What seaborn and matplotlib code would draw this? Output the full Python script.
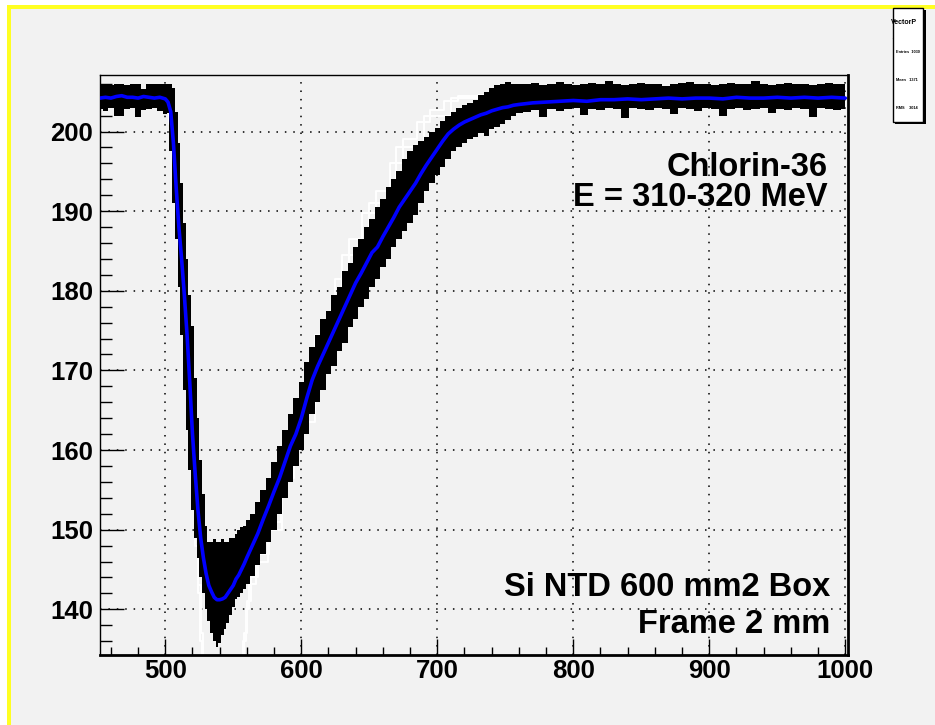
import numpy as np
import pandas as pd
import seaborn as sns
import matplotlib.pyplot as plt
from matplotlib.patches import Rectangle
from matplotlib.ticker import MultipleLocator

# ---- data ----
# black band = envelope of the single pulses (upper / lower edge per bin)
band_x = (list(range(452, 501, 4)) + list(range(502, 561, 2))
          + list(range(564, 761, 4)) + list(range(766, 1001, 6)))
band_hi = [206, 206, 205.8, 206, 206, 205.9, 206, 206, 205.3, 206, 206, 206, 206,
           206, 206, 205.5, 202.5, 198.5, 193.5, 188.5, 184, 179.5, 175.6,
           169, 164, 158.8, 154.5, 150.5, 148.5, 148.5, 148.8, 148.5, 148.5,
           148.8, 148.5, 148.5, 149, 149, 149.5, 150, 150.3, 150.5, 151.2,
           152, 153.5, 155, 156.5, 158.5, 160.5, 162.5, 164.5, 166.5, 168.5,
           171, 173, 174.5, 176.5, 177.5, 179.5, 180.5, 182.5, 183.5, 185.5,
           186.5, 188, 189, 190.5, 191.5, 193, 194, 195, 196.5, 197.5,
           198.3, 198.8, 199.3, 199.9, 200.5, 201.3, 202, 202.5, 203, 203.3,
           203.6, 204, 204.6, 205, 205.5, 205.8, 206, 206.2, 206, 206,
           206, 206.1, 205.9, 206, 206.2, 206, 205.8, 206, 206.1, 206,
           206.3, 206, 205.9, 206, 206.1, 206, 206, 205.7, 206, 206.1,
           206.2, 206, 206, 205.9, 206, 206.1, 206, 206, 206.3, 206,
           205.8, 206, 206.1, 206, 206, 205.9, 206, 206.1, 206, 206]
band_lo = [202.8, 202.6, 202.9, 201.9, 202.0, 202.8, 202.9, 201.8, 202.7, 202.8, 202.9, 202.6, 202.2,
           202.3, 197.5, 191, 186.5, 180.5, 174.5, 167.5, 162.5, 157.5, 152.5,
           149, 146.5, 144, 142, 140, 138.5, 137, 136, 135.3, 135.8,
           136.8, 137.5, 138.3, 139.3, 140.3, 141.3, 141.5, 142, 142.6, 143.2,
           144.2, 145.5, 147, 148.5, 150, 152, 154, 156, 158, 160,
           162, 164.5, 166, 167.5, 169.5, 170.5, 172.5, 173.5, 175.5, 176.5,
           178, 179, 180.5, 181.5, 183, 184, 185.5, 186.5, 187.5, 188.5,
           189.5, 191, 192.5, 193.5, 194.5, 195.5, 196.5, 197.5, 198, 198.5,
           199, 199.3, 199.8, 199.5, 200.3, 200.6, 201, 201.4, 201.9, 202.3,
           202.5, 202.7, 201.8, 202.8, 202.6, 202.8, 202.9, 202.1, 202.8, 202.7,
           202.9, 202.8, 201.7, 202.9, 202.8, 202.7, 202.9, 202.8, 202.2, 202.9,
           202.8, 202.6, 202.9, 202.8, 201.9, 202.8, 202.9, 202.7, 202.8, 202.9,
           202.3, 202.8, 202.7, 202.9, 202.8, 201.8, 202.9, 202.8, 202.7, 202.8]

# blue = averaged pulse
mean_x = (list(range(452, 501, 4)) + list(range(502, 561, 2))
          + list(range(564, 761, 4)) + list(range(770, 1001, 10)))
mean_y = [204.2, 204.3, 204.2, 204.4, 204.5, 204.3, 204.3, 204.2, 204.4, 204.3, 204.2, 204.3, 204.1,
          203.7, 202.5, 198.5, 193, 188, 184, 179.5, 174.5, 168.5, 162,
          157, 152.5, 149, 146.5, 144.5, 143, 142.2, 141.5, 141.2, 141.2,
          141.3, 141.5, 142, 142.5, 143, 143.8, 144.3, 145, 145.7, 146.5,
          148, 149.5, 151.3, 153, 154.8, 156.5, 158.5, 160.5, 162, 164,
          166.5, 168.8, 170.5, 172, 173.5, 175, 176.5, 178, 179.5, 181,
          182.2, 183.5, 184.8, 185.5, 186.8, 188, 189.2, 190.5, 191.5, 192.5,
          193.5, 194.7, 195.8, 196.8, 197.8, 198.8, 199.7, 200.3, 200.8, 201.2,
          201.5, 201.8, 202.1, 202.3, 202.6, 202.8, 203, 203.1, 203.3, 203.4,
          203.6, 203.7, 203.8, 203.9, 203.8, 204.0, 204.0, 204.1, 204.0, 204.1, 204.2, 204.1,
          204.2, 204.2, 204.1, 204.3, 204.2, 204.2, 204.3, 204.2, 204.3, 204.2, 204.3, 204.2]

# two white pulses (deeper, run off the bottom of the frame)
white1_x = [500, 504, 507, 510, 513, 516, 519, 521, 523, 524.5, 526, 528, 540, 552, 556, 558,
            560, 563, 570, 581, 590, 600, 610, 620, 630, 640, 650, 660, 670, 680, 690, 700,
            710, 720, 740]
white1_y = [204.2, 203.5, 199, 192, 184, 175, 165, 157, 148, 142, 136, 130, 124, 128, 132, 136,
            140, 143.2, 146, 150, 156.5, 163, 169.5, 176, 181.5, 186.5, 189.8, 192.5, 196, 199, 201.2, 202.7,
            203.8, 204.5, 204.6]
white2_x = [500, 505, 508, 511, 514, 517, 520, 523, 525, 527, 529, 545, 555, 557, 559, 561,
            565, 572, 580, 590, 600, 620, 640, 660, 680, 700, 720, 740]
white2_y = [204.3, 201, 195, 187, 178, 168, 159, 150, 143, 137, 131, 125, 129, 133, 137, 141,
            144, 147, 151, 157, 163.5, 174.5, 184.5, 191, 198, 202, 204.2, 204.5]

x_ticks = [500, 600, 700, 800, 900, 1000]
y_ticks = [140, 150, 160, 170, 180, 190, 200]
text_top = ['Chlorin-36', 'E = 310-320 MeV']
text_bottom = ['Si NTD 600 mm2 Box', 'Frame 2 mm']
stats_lines = ['Entries  1030', 'Mean   1371', 'RMS    3014']

# ---- style ----
sns.set_theme(style='ticks')
plt.rcParams['font.family'] = ['Liberation Sans', 'DejaVu Sans']
plt.rcParams['font.weight'] = 'bold'
plt.rcParams['text.color'] = 'black'

bg = '#f2f2f2'
fig = plt.figure(figsize=(9.35, 7.25), dpi=100, facecolor=bg)
ax = fig.add_axes([100 / 935, 70 / 725, 748 / 935, 580 / 725])
ax.set_facecolor(bg)

# pulses
sns.lineplot(x=white1_x, y=white1_y, color='white', lw=1.4, drawstyle='steps-mid', ax=ax, zorder=2)
sns.lineplot(x=white2_x, y=white2_y, color='white', lw=1.4, drawstyle='steps-mid', ax=ax, zorder=2)
ax.fill_between(band_x, band_lo, band_hi, step='mid', color='black', lw=0, zorder=3)
sns.lineplot(x=mean_x, y=mean_y, color='#0000ff', lw=2.6, ax=ax, zorder=5)

ax.set_xlim(452, 1002)
ax.set_ylim(134.26, 207.1)
ax.set_xticks(x_ticks)
ax.set_yticks(y_ticks)
ax.xaxis.set_minor_locator(MultipleLocator(20))
ax.yaxis.set_minor_locator(MultipleLocator(2))
ax.tick_params(axis='x', which='major', direction='in', length=11.5, width=1, pad=3,
               labelsize=18.5, top=False, colors='black')
ax.tick_params(axis='x', which='minor', direction='in', length=5.5, width=1, top=False, colors='black')
ax.tick_params(axis='y', which='major', direction='in', length=17, width=1, pad=5,
               labelsize=18.5, right=False, colors='black')
ax.tick_params(axis='y', which='minor', direction='in', length=8.5, width=1, right=False, colors='black')
for lab in ax.get_xticklabels() + ax.get_yticklabels():
    lab.set_fontweight('bold')

ax.grid(True, which='major', color='black', linestyle=(0, (1, 4.5)), lw=1.1)
ax.set_axisbelow(True)
for side in ['top', 'left']:
    ax.spines[side].set_linewidth(1.0)
for side in ['right', 'bottom']:
    ax.spines[side].set_linewidth(2.0)
for s in ax.spines.values():
    s.set_color('black')
ax.set_xlabel('')
ax.set_ylabel('')

# labels in the frame
ax.text(0.973, 0.826, text_top[0], transform=ax.transAxes, ha='right', va='baseline',
        fontsize=23.5, fontweight='bold', color='black', zorder=6)
ax.text(0.973, 0.775, text_top[1], transform=ax.transAxes, ha='right', va='baseline',
        fontsize=23.5, fontweight='bold', color='black', zorder=6)
ax.text(0.976, 0.101, text_bottom[0], transform=ax.transAxes, ha='right', va='baseline',
        fontsize=23.5, fontweight='bold', color='black', zorder=6)
ax.text(0.976, 0.038, text_bottom[1], transform=ax.transAxes, ha='right', va='baseline',
        fontsize=23.5, fontweight='bold', color='black', zorder=6)

# stats box, cut at the right edge
fig.patches.append(Rectangle((895 / 935, (725 - 124) / 725), 31 / 935, 114 / 725,
                             transform=fig.transFigure, facecolor='black', lw=0, zorder=1))
fig.patches.append(Rectangle((893 / 935, (725 - 122) / 725), 30 / 935, 114 / 725,
                             transform=fig.transFigure, facecolor='white', edgecolor='black',
                             lw=1, zorder=2))
fig.add_artist(plt.Line2D([893 / 935, 923 / 935], [(725 - 38) / 725] * 2,
                          transform=fig.transFigure, color='black', lw=1))
fig.text(891 / 935, (725 - 22) / 725, 'VectorP', fontsize=5, fontweight='bold', va='center')
for i, line in enumerate(stats_lines):
    fig.text(896 / 935, (725 - 52 - 28 * i) / 725, line, fontsize=2.8, va='center')

# yellow highlight border of the pad
fig.patches.append(Rectangle((0, 1 - 5 / 725), 1, 5 / 725, transform=fig.transFigure,
                             facecolor='white', lw=0))
fig.patches.append(Rectangle((0, 0), 7 / 935, 1, transform=fig.transFigure,
                             facecolor='white', lw=0))
fig.patches.append(Rectangle((7 / 935, 1 - 9 / 725), 1, 4 / 725, transform=fig.transFigure,
                             facecolor='#ffff22', lw=0))
fig.patches.append(Rectangle((7 / 935, 0), 3.5 / 935, 1 - 5 / 725, transform=fig.transFigure,
                             facecolor='#ffff22', lw=0))

fig.savefig('out.png', dpi=100, facecolor=bg)
